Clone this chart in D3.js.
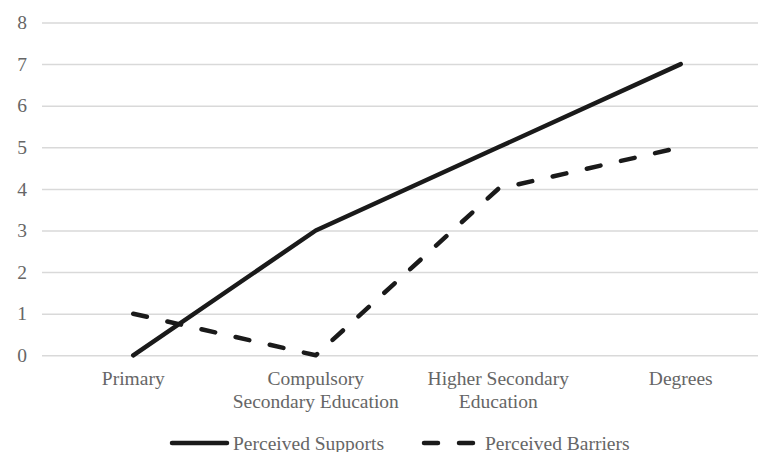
<!DOCTYPE html>
<html>
<head>
<meta charset="utf-8">
<script src="https://cdn.jsdelivr.net/npm/d3@7/dist/d3.min.js"></script>
<style>
  html, body { margin: 0; padding: 0; background: #fff; }
  svg { display: block; }
  text { font-family: "Liberation Serif", "Times New Roman", serif; fill: #666; }
</style>
</head>
<body>
<svg id="chart" width="758" height="452"></svg>
<script>
// Education levels along the x axis
const categories = ["Primary", "Compulsory Secondary Education", "Higher Secondary Education", "Degrees"];
// Series values
const supports = [0, 3, 5, 7];
const barriers = [1, 0, 4, 5];
const seriesNames = ["Perceived Supports", "Perceived Barriers"];
// Y axis ticks
const yTicks = [0, 1, 2, 3, 4, 5, 6, 7, 8];

const svg = d3.select("#chart");
const fontSize = 19.5;
const textColor = "#666";
const lineColor = "#1a1a1a";

const x = d3.scaleBand().domain(categories).range([42, 772]);
const y = d3.scaleLinear().domain([0, 8]).range([355.3, 22.5]);

// Horizontal gridlines
const yAxis = d3.axisLeft(y).tickValues(yTicks).tickSize(-(772 - 42)).tickPadding(15);
const gy = svg.append("g").attr("transform", "translate(42,0)").call(yAxis);
gy.select(".domain").remove();
gy.selectAll(".tick line").attr("stroke", "#d9d9d9").attr("stroke-width", 1.5);
gy.selectAll(".tick text").attr("font-size", fontSize).attr("fill", textColor)
  .style("font-family", "Liberation Serif, serif");

// Category labels, wrapped to the band width
const xAxis = d3.axisBottom(x).tickSize(0).tickPadding(0);
const gx = svg.append("g").attr("transform", "translate(0,355.3)").call(xAxis);
gx.select(".domain").remove();
gx.selectAll(".tick text").each(function(d) {
  const t = d3.select(this);
  t.text(null).attr("font-size", fontSize).attr("fill", textColor)
    .style("font-family", "Liberation Serif, serif").attr("y", 0).attr("dy", null);
  const words = d.split(" ");
  const maxW = 178;
  let lines = [], cur = [];
  const probe = t.append("tspan");
  words.forEach(w => {
    const test = cur.concat(w).join(" ");
    probe.text(test);
    if (probe.node().getComputedTextLength() > maxW && cur.length) {
      lines.push(cur.join(" "));
      cur = [w];
    } else cur.push(w);
  });
  lines.push(cur.join(" "));
  probe.remove();
  lines.forEach((ln, i) => {
    t.append("tspan").attr("x", 0).attr("y", 30 + i * 23).text(ln);
  });
});

const cx = d => x(d) + x.bandwidth() / 2;
const line = d3.line().x((d, i) => cx(categories[i])).y(d => y(d));

svg.append("path").datum(supports).attr("d", line)
  .attr("fill", "none").attr("stroke", lineColor).attr("stroke-width", 4.5)
  .attr("stroke-linecap", "round").attr("stroke-linejoin", "round");

svg.append("path").datum(barriers).attr("d", line)
  .attr("fill", "none").attr("stroke", lineColor).attr("stroke-width", 4.5)
  .attr("stroke-dasharray", "14,21")
  .attr("stroke-linecap", "round").attr("stroke-linejoin", "round");

// Legend
const legend = svg.append("g").attr("transform", "translate(0,443)");
const legendItems = [
  { name: seriesNames[0], x0: 172, dash: null },
  { name: seriesNames[1], x0: 424, dash: "14,21" }
];
legendItems.forEach(it => {
  legend.append("line").attr("x1", it.x0).attr("x2", it.x0 + 55).attr("y1", 0).attr("y2", 0)
    .attr("stroke", lineColor).attr("stroke-width", 4.5).attr("stroke-linecap", "round")
    .attr("stroke-dasharray", it.dash);
  legend.append("text").attr("x", it.x0 + 61).attr("y", 6.5).attr("font-size", fontSize)
    .text(it.name);
});
</script>
</body>
</html>
